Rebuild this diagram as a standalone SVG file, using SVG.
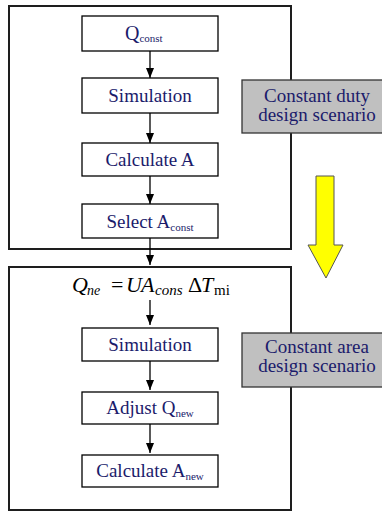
<svg xmlns="http://www.w3.org/2000/svg" width="382" height="511" viewBox="0 0 382 511">
<defs>
<marker id="ah" viewBox="0 0 10 8" refX="10" refY="4" markerWidth="10" markerHeight="8" markerUnits="userSpaceOnUse" orient="auto">
<path d="M0,0 L10,4 L0,8 Z" fill="#000"/>
</marker>
<style>
.outer{fill:#fff;stroke:#1e1e1e;stroke-width:2}
.box{fill:#fff;stroke:#000;stroke-width:1.3}
.lbl{fill:#c0c0c0;stroke:#333;stroke-width:1.3}
.t{font-family:"Liberation Serif","Times New Roman",serif;font-size:19px;fill:#1b1b6b;text-anchor:middle}
.sub{font-size:11px}
.eq{font-family:"Liberation Serif","Times New Roman",serif;font-size:22px;fill:#000}
.conn line{stroke:#000;stroke-width:1.3;marker-end:url(#ah)}
</style>
</defs>
<rect width="382" height="511" fill="#fff"/>
<g id="frame-duty"><rect class="outer" x="9" y="6" width="282" height="243"/></g>
<g id="frame-area"><rect class="outer" x="9" y="267" width="282" height="243"/></g>

<g id="n-qconst"><rect class="box" x="82" y="16" width="136" height="35"/><text class="t" x="125" y="40" style="text-anchor:start;font-size:20px">Q<tspan class="sub" dy="2">const</tspan></text></g>
<g id="n-sim1"><rect class="box" x="82" y="78" width="136" height="35"/><text class="t" x="150" y="102">Simulation</text></g>
<g id="n-calcA"><rect class="box" x="82" y="143" width="136" height="33"/><text class="t" x="150" y="166">Calculate A</text></g>
<g id="n-selA"><rect class="box" x="82" y="204" width="136" height="34"/><text class="t" x="150" y="228">Select A<tspan class="sub" dy="3">const</tspan></text></g>

<g id="n-eq"><text class="eq" y="292"><tspan x="72" font-style="italic">Q</tspan><tspan x="87" dy="3" font-size="14" font-style="italic">ne</tspan><tspan x="111" dy="-3">=</tspan><tspan x="126" font-style="italic">U</tspan><tspan x="141" font-style="italic">A</tspan><tspan x="155" dy="3" font-size="15" font-style="italic">cons</tspan><tspan x="188" dy="-3">Δ</tspan><tspan x="201" font-style="italic">T</tspan><tspan x="214" dy="3" font-size="15">mi</tspan></text></g>

<g id="n-sim2"><rect class="box" x="82" y="328" width="136" height="33"/><text class="t" x="150" y="351">Simulation</text></g>
<g id="n-adjQ"><rect class="box" x="82" y="392" width="136" height="32"/><text class="t" x="150" y="414">Adjust Q<tspan class="sub" dy="3">new</tspan></text></g>
<g id="n-calcAnew"><rect class="box" x="82" y="455" width="136" height="32"/><text class="t" x="150" y="477">Calculate A<tspan class="sub" dy="3">new</tspan></text></g>

<g id="l-duty"><rect class="lbl" x="242" y="80" width="150" height="53"/><text class="t" x="317" y="102">Constant duty</text><text class="t" x="317" y="121">design scenario</text></g>
<g id="l-area"><rect class="lbl" x="242" y="333" width="150" height="54"/><text class="t" x="317" y="353">Constant area</text><text class="t" x="317" y="372">design scenario</text></g>

<g id="big-arrow"><polygon points="316,176 334,176 334,245 343,245 326,278 308,245 316,245" fill="#ffff00" stroke="#555" stroke-width="1"/></g>

<g class="conn" id="connectors">
<line x1="150" y1="51" x2="150" y2="78"/>
<line x1="150" y1="113" x2="150" y2="143"/>
<line x1="150" y1="176" x2="150" y2="204"/>
<line x1="150" y1="238" x2="150" y2="265"/>
<line x1="150" y1="300" x2="150" y2="325"/>
<line x1="150" y1="361" x2="150" y2="390"/>
<line x1="150" y1="424" x2="150" y2="453"/>
</g>
</svg>
